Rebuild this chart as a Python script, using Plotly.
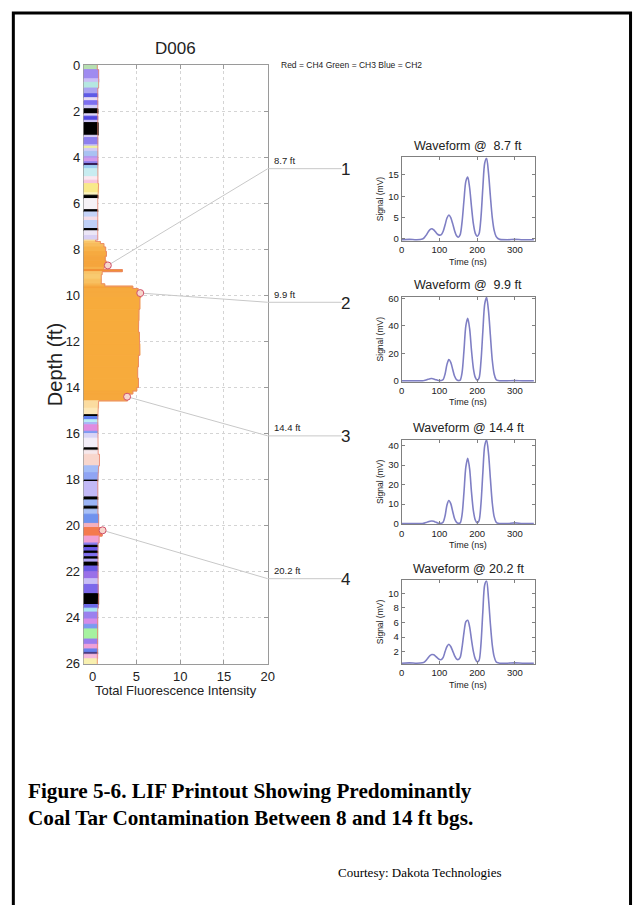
import plotly.graph_objects as go

W, H = 640, 905

# ---------------- data ----------------
band_top = [0.00, 0.20, 0.60, 0.75, 1.00, 1.25, 1.42, 1.55, 1.75, 1.90, 2.12, 2.22, 2.40, 2.50,
            3.05, 3.15, 3.45, 3.52, 3.62, 3.75, 3.97, 4.05, 4.20, 4.28, 4.36, 4.50, 4.85, 5.00,
            5.15, 5.55, 5.65, 5.80, 6.28, 6.38, 6.60, 6.75, 7.10, 7.20, 7.40,
            7.60, 7.66, 7.75, 7.90, 8.10, 8.30, 8.50, 8.65, 8.78, 8.88, 8.97, 9.10, 9.30, 9.50,
            9.60, 9.70, 9.85, 10.10, 10.60, 11.10, 11.60, 12.10, 12.60, 13.10, 13.60, 14.00,
            14.15, 14.28, 14.58, 14.90,
            15.18, 15.26, 15.40, 15.52, 15.62, 15.90, 16.00, 16.20, 16.62, 16.72, 16.90, 17.40,
            17.70, 18.02, 18.08, 18.75, 18.88, 19.15, 19.28, 19.50, 19.90, 20.08, 20.45, 20.75,
            20.85, 20.95, 21.10, 21.20, 21.35, 21.45, 21.58, 21.75, 22.00, 22.30, 22.55, 22.95,
            23.42, 23.58, 23.75, 24.05, 24.28, 24.48, 24.92, 25.15, 25.35, 25.50, 25.58, 25.78]
band_level = [0.55, 0.70, 0.75, 0.70, 0.60, 0.60, 0.60, 0.60, 0.60, 0.62, 0.60, 0.60, 0.60, 0.65,
              0.60, 0.60, 0.60, 0.60, 0.60, 0.60, 0.60, 0.62, 0.60, 0.60, 0.60, 0.60, 0.60, 0.62,
              0.70, 0.65, 0.62, 0.60, 0.60, 0.60, 0.60, 0.60, 0.60, 0.60, 0.60,
              0.35, 0.90, 1.30, 1.50, 1.60, 1.45, 1.55, 1.70, 1.30, 3.40, 1.10, 1.00, 1.00, 1.40,
              4.60, 5.20, 5.50, 5.40, 5.30, 5.25, 5.35, 5.40, 5.25, 5.15, 5.25, 5.05,
              4.60, 4.00, 0.70, 0.62,
              0.60, 0.60, 0.60, 0.60, 0.62, 0.60, 0.60, 0.60, 0.60, 0.65, 0.80, 0.70,
              0.62, 0.60, 0.60, 0.60, 0.60, 0.60, 0.62, 0.70, 0.70, 1.10, 0.75, 0.62,
              0.60, 0.60, 0.60, 0.60, 0.60, 0.60, 0.62, 0.62, 0.62, 0.62, 0.65, 0.70,
              0.65, 0.60, 0.60, 0.60, 0.60, 0.62, 0.60, 0.60, 0.60, 0.60, 0.60, 0.55]
band_color = ['#b7dfb2', '#9f8bf0', '#cbbff6', '#b5e7e1', '#aaa3f1', '#5e5ae6', '#e6dcf2', '#7d6ff0',
              '#d0caf6', '#000000', '#ddd6f6', '#5048e0', '#cac2f5', '#000000',
              '#d8d0f6', '#8d80ee', '#bcb2f6', '#eef0a0', '#d2ccf5', '#a9c2f2', '#b49af0', '#d29aea',
              '#8e80ec', '#301850', '#9fd0f2', '#c8ecf0', '#fbe8f0', '#f6c4de',
              '#f8e98a', '#fbf3c0', '#000000', '#f6f2f6', '#000000', '#c4d3f8', '#f4dde8', '#bfd0f7',
              '#000000', '#ece6f6', '#d8d0f4',
              '#fbd890', '#f9c56a', '#f8bc5c', '#f7b24a', '#f6aa40', '#f5a53c', '#f5a53c', '#f5a53c',
              '#f6b04a', '#f29035', '#f8c468', '#f9ca70', '#f8c060', '#f7b450',
              '#f5a33a', '#f6aa3e', '#f6aa3e', '#f7ab3c', '#f7ab3c', '#f7ab3c', '#f7ab3c', '#f7ab3c',
              '#f7ab3c', '#f7ab3c', '#f7ab3c', '#f7ab3c',
              '#f6a83c', '#f6a83c', '#fbdca0', '#fde8b8',
              '#000000', '#5f80f0', '#b9ecf4', '#a8b8f6', '#e08ce0', '#7f9af2', '#d8d4f6', '#f3eef8',
              '#000000', '#f6e8ec', '#f8d6cc', '#a4bdf7',
              '#8fa4f4', '#000000', '#c2b9f7', '#000000', '#9bb4f6', '#000000', '#a8c0f6', '#6f92ee',
              '#f4b0be', '#f47a4e', '#f0a0d4', '#8c7ef0',
              '#000000', '#6a5ae8', '#000000', '#8070f0', '#000000', '#b0a4f4', '#000000', '#6b5ce6',
              '#9a70e8', '#c8bef6', '#7c68ea', '#000000',
              '#6d6ae8', '#a8e4f0', '#9b80ee', '#d48ce8', '#7c9af0', '#a6f2a0', '#9a7cee', '#f0a0d8',
              '#6680ee', '#4a3a80', '#f4b8dc', '#f8f0b0']
max_depth = 26.0

sample_depth = [8.7, 9.9, 14.4, 20.2]
sample_level = [1.75, 5.45, 3.95, 1.15]
sample_label = ["8.7 ft", "9.9 ft", "14.4 ft", "20.2 ft"]
sample_number = ["1", "2", "3", "4"]
callout_depth = [4.5, 10.3, 16.1, 22.3]

depth_ticks = list(range(0, 27, 2))
intensity_ticks = [0, 5, 10, 15, 20]
time_ticks = [0, 100, 200, 300]

wf_time = [0, 20, 40, 55, 60, 65, 70, 75, 80, 85, 90, 95, 100, 105, 110, 115, 120, 125, 130, 135,
           140, 145, 150, 155, 160, 165, 170, 175, 180, 185, 190, 195, 200, 205, 210, 215, 220,
           225, 230, 235, 240, 245, 250, 255, 260, 280, 300, 320, 350]
wf_8_7 = [-0.2, -0.1, -0.2, 0.0, 0.3, 0.9, 1.6, 2.2, 2.4, 2.1, 1.6, 1.1, 0.9, 1.0, 1.8, 3.3, 4.9,
          5.6, 5.0, 3.6, 2.0, 0.8, 0.4, 1.0, 4.0, 9.0, 13.5, 14.5, 12.0, 7.5, 3.5, 1.3, 0.6, 1.2,
          5.0, 12.0, 17.8, 18.9, 15.5, 10.0, 5.0, 2.0, 0.6, 0.1, -0.1, -0.2, -0.1, -0.2, -0.2]
wf_9_9 = [0, 0, 0, 0, 0.2, 0.6, 1.1, 1.6, 1.7, 1.4, 0.9, 0.4, 0.2, 0.2, 1.0, 5.0, 12.0, 15.5,
          13.5, 8.5, 3.5, 1.0, 0.2, 0.5, 6.0, 22.0, 40.0, 45.5, 38.0, 22.0, 9.0, 2.5, 0.5, 2.0,
          14.0, 36.0, 56.0, 60.8, 51.0, 33.0, 15.0, 5.0, 1.0, 0.2, 0, 0, 0.2, 0, 0]
wf_14_4 = [0, 0, 0, 0, 0.2, 0.5, 0.9, 1.2, 1.3, 1.1, 0.7, 0.3, 0.1, 0.1, 0.8, 4.0, 9.5, 11.8,
           10.2, 6.3, 2.6, 0.7, 0.1, 0.3, 4.5, 16.0, 29.0, 33.5, 28.0, 16.0, 6.5, 1.8, 0.3, 1.5,
           10.0, 26.0, 40.0, 42.8, 36.0, 23.0, 10.5, 3.5, 0.8, 0.1, 0, 0, 0.3, 0, 0]
wf_20_2 = [0.4, 0.45, 0.4, 0.45, 0.55, 0.8, 1.15, 1.45, 1.6, 1.55, 1.35, 1.1, 0.92, 0.9, 1.2, 2.0,
           2.7, 3.0, 2.7, 2.1, 1.45, 1.0, 0.9, 1.2, 2.6, 4.6, 6.1, 6.3, 5.4, 3.6, 2.0, 1.0, 0.6,
           0.8, 3.0, 7.5, 11.2, 11.7, 9.3, 5.8, 2.9, 1.3, 0.6, 0.45, 0.4, 0.4, 0.45, 0.4, 0.4]
wf_series = [wf_8_7, wf_9_9, wf_14_4, wf_20_2]
wf_titles = ["Waveform @  8.7 ft", "Waveform @  9.9 ft", "Waveform @ 14.4 ft", "Waveform @ 20.2 ft"]
wf_yticks = [[0, 5, 10, 15], [0, 20, 40, 60], [0, 10, 20, 30, 40], [2, 4, 6, 8, 10]]
wf_yrange = [[-0.5, 19.1], [-0.6, 61.0], [-0.4, 43.0], [0.3, 11.8]]

# ---------------- layout helpers ----------------
def fx(p):
    return p / W


def fy(p):
    return 1 - p / H


SANS = "Liberation Sans, Arial, sans-serif"
SERIF = "Liberation Serif, Times New Roman, serif"
AX = '#9a9a9a'
TXT = '#222222'

fig = go.Figure()

# ---------------- main LIF log ----------------
bottoms = band_top[1:] + [max_depth]
mids = [(a + b) / 2 for a, b in zip(band_top, bottoms)]
thick = [b - a for a, b in zip(band_top, bottoms)]
x_min = -1
fig.add_trace(go.Bar(
    orientation='h', y=mids, x=[lv - x_min for lv in band_level], base=x_min, width=thick,
    marker=dict(color=band_color, line=dict(color=band_color, width=1)),
    xaxis='x', yaxis='y', hoverinfo='skip', showlegend=False))

# outline of profile
ox, oy = [], []
for a, b, lv in zip(band_top, bottoms, band_level):
    ox += [lv, lv]
    oy += [a, b]
fig.add_trace(go.Scatter(x=ox, y=oy, mode='lines', line=dict(color='#e8846c', width=0.8),
                         xaxis='x', yaxis='y', hoverinfo='skip', showlegend=False))

# connector lines
shapes = []
for d, lv, cd in zip(sample_depth, sample_level, callout_depth):
    fig.add_trace(go.Scatter(x=[lv, intensity_ticks[-1]], y=[d, cd], mode='lines',
                             line=dict(color='#c8c8c8', width=1), xaxis='x', yaxis='y',
                             hoverinfo='skip', showlegend=False, cliponaxis=False))
    shapes.append(dict(type='line', xref='paper', yref='y', x0=fx(269), x1=fx(344), y0=cd, y1=cd,
                       line=dict(color='#c8c8c8', width=1)))

fig.add_trace(go.Scatter(x=sample_level, y=sample_depth, mode='markers',
                         marker=dict(symbol='circle', size=7, color='#f7d6cc',
                                     line=dict(color='#d0506a', width=1)),
                         xaxis='x', yaxis='y', hoverinfo='skip', showlegend=False, cliponaxis=False))

main_axis_common = dict(showline=True, linecolor=AX, linewidth=1, mirror='ticks', ticks='inside',
                        ticklen=4, tickcolor=AX, showgrid=True, gridcolor='#d4d4d4', griddash='dot',
                        zeroline=False, layer='below traces',
                        tickfont=dict(family=SANS, size=13, color=TXT))

layout = dict(
    width=W, height=H, autosize=False, margin=dict(l=0, r=0, t=0, b=0),
    paper_bgcolor='white', plot_bgcolor='white', showlegend=False, bargap=0,
    xaxis=dict(domain=[fx(82), fx(269)], range=[x_min, 20], tickvals=intensity_ticks,
               anchor='y', **main_axis_common),
    yaxis=dict(domain=[fy(668), fy(59)], range=[max_depth, 0], tickvals=depth_ticks,
               anchor='x', **main_axis_common),
)

# ---------------- waveforms ----------------
wf_tops = [153, 295, 440, 583]
wf_bottoms = [238, 381, 526, 668]
annotations = []
for i, (ser, ttl, yt, yr, t0, b0) in enumerate(zip(wf_series, wf_titles, wf_yticks, wf_yrange,
                                                   wf_tops, wf_bottoms)):
    n = i + 2
    fig.add_trace(go.Scatter(x=wf_time, y=ser, mode='lines', line=dict(color='#7f7fc4', width=1.6,
                                                                       shape='spline', smoothing=0.8),
                             xaxis=f'x{n}', yaxis=f'y{n}', hoverinfo='skip', showlegend=False))
    common = dict(showline=True, linecolor='#808080', linewidth=1, mirror='ticks', ticks='inside',
                  ticklen=3, tickcolor='#808080', showgrid=False, zeroline=False,
                  tickfont=dict(family=SANS, size=9.5, color=TXT))
    layout[f'xaxis{n}'] = dict(domain=[fx(405), fx(540)], range=[0, 352], tickvals=time_ticks,
                               anchor=f'y{n}', **common)
    layout[f'yaxis{n}'] = dict(domain=[fy(b0), fy(t0)], range=yr, tickvals=yt,
                               anchor=f'x{n}', **common)
    annotations.append(dict(text=ttl, xref='paper', yref='paper', x=fx(472.5), y=fy(t0 - 12),
                            showarrow=False, font=dict(family=SANS, size=12.5, color=TXT),
                            xanchor='center', yanchor='middle'))
    annotations.append(dict(text='Time (ns)', xref='paper', yref='paper', x=fx(472.5), y=fy(b0 + 21),
                            showarrow=False, font=dict(family=SANS, size=9, color=TXT),
                            xanchor='center', yanchor='middle'))
    annotations.append(dict(text='Signal (mV)', xref='paper', yref='paper', x=fx(383),
                            y=fy((t0 + b0) / 2), textangle=-90, showarrow=False,
                            font=dict(family=SANS, size=8.5, color=TXT),
                            xanchor='center', yanchor='middle'))

# callout labels
for cd, lab, num in zip(callout_depth, sample_label, sample_number):
    annotations.append(dict(text=lab, xref='paper', yref='y', x=fx(273), y=cd, yshift=8,
                            showarrow=False, font=dict(family=SANS, size=9.5, color=TXT),
                            xanchor='left', yanchor='middle'))
    annotations.append(dict(text=num, xref='paper', yref='y', x=fx(348), y=cd, yshift=-1,
                            showarrow=False, font=dict(family=SANS, size=17, color=TXT),
                            xanchor='center', yanchor='middle'))

annotations += [
    dict(text='D006', xref='paper', yref='paper', x=fx(175), y=fy(42), showarrow=False,
         font=dict(family=SANS, size=17, color=TXT), xanchor='center', yanchor='middle'),
    dict(text='Depth (ft)', xref='paper', yref='paper', x=fx(53), y=fy(364), textangle=-90,
         showarrow=False, font=dict(family=SANS, size=20, color=TXT), xanchor='center', yanchor='middle'),
    dict(text='Total Fluorescence Intensity', xref='paper', yref='paper', x=fx(176), y=fy(695),
         showarrow=False, font=dict(family=SANS, size=13, color=TXT), xanchor='center', yanchor='middle'),
    dict(text='Red = CH4 Green = CH3 Blue = CH2', xref='paper', yref='paper', x=fx(280), y=fy(59),
         showarrow=False, font=dict(family=SANS, size=8.5, color=TXT), xanchor='left', yanchor='middle'),
    dict(text='<b>Figure 5-6. LIF Printout Showing Predominantly</b>', xref='paper', yref='paper',
         x=fx(23), y=fy(797), showarrow=False, font=dict(family=SERIF, size=21.2, color='black'),
         xanchor='left', yanchor='middle'),
    dict(text='<b>Coal Tar Contamination Between 8 and 14 ft bgs.</b>', xref='paper', yref='paper',
         x=fx(23), y=fy(825), showarrow=False, font=dict(family=SERIF, size=21.2, color='black'),
         xanchor='left', yanchor='middle'),
    dict(text='Courtesy: Dakota Technologies', xref='paper', yref='paper', x=fx(508), y=fy(880),
         showarrow=False, font=dict(family=SERIF, size=13, color='black'), xanchor='right',
         yanchor='middle'),
]

# outer frame
shapes.append(dict(type='rect', xref='paper', yref='paper', x0=fx(10.5), x1=fx(637.5),
                   y0=-0.05, y1=fy(6), line=dict(color='black', width=3), fillcolor='rgba(0,0,0,0)'))

layout['annotations'] = annotations
layout['shapes'] = shapes
fig.update_layout(**layout)

fig.write_html(
    "out.html",
    config={'displayModeBar': False, 'staticPlot': True},
    post_script=("var gd=document.getElementById('{plot_id}');"
                 "gd.style.position='fixed';gd.style.top='0px';gd.style.left='0px';"
                 "document.body.style.margin='0';document.body.style.padding='0';"
                 "document.documentElement.style.overflow='hidden';"),
)
